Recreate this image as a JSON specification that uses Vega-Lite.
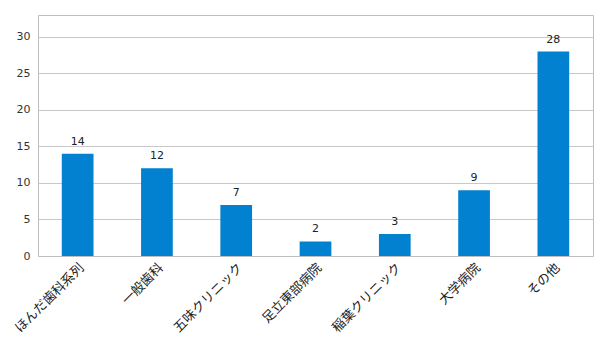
{
  "$schema": "https://vega.github.io/schema/vega-lite/v6.json",
  "width": 555,
  "height": 241,
  "autosize": {"type": "none"},
  "padding": {"left": 38, "top": 15, "right": 13, "bottom": 95},
  "background": "white",
  "config": {
    "view": {"stroke": "#bfbfbf", "strokeWidth": 1},
    "font": "Noto Sans CJK JP"
  },
  "data": {
    "values": [
      {"name": "ほんだ歯科系列", "count": 14},
      {"name": "一般歯科", "count": 12},
      {"name": "五味クリニック", "count": 7},
      {"name": "足立東部病院", "count": 2},
      {"name": "稲葉クリニック", "count": 3},
      {"name": "大学病院", "count": 9},
      {"name": "その他", "count": 28}
    ]
  },
  "encoding": {
    "x": {
      "field": "name",
      "type": "nominal",
      "sort": null,
      "scale": {"paddingInner": 0.6, "paddingOuter": 0.3},
      "axis": {
        "title": null,
        "labelAngle": -45,
        "labelAlign": "right",
        "labelBaseline": "top",
        "labelFontSize": 13,
        "labelColor": "#222222",
        "labelFont": "Noto Sans CJK JP",
        "ticks": false,
        "domainColor": "#bfbfbf",
        "labelPadding": 5
      }
    },
    "y": {
      "field": "count",
      "type": "quantitative",
      "scale": {"domain": [0, 33], "nice": false},
      "axis": {
        "title": null,
        "values": [0, 5, 10, 15, 20, 25, 30],
        "domain": false,
        "ticks": false,
        "gridColor": "#c8c8c8",
        "labelFontSize": 11,
        "labelColor": "#333333",
        "labelFont": "DejaVu Sans",
        "labelPadding": 8
      }
    }
  },
  "layer": [
    {"mark": {"type": "bar", "color": "#0281d0"}},
    {
      "mark": {"type": "text", "dy": -12, "fontSize": 11, "color": "#222222", "font": "DejaVu Sans"},
      "encoding": {"text": {"field": "count", "type": "quantitative"}}
    }
  ]
}
